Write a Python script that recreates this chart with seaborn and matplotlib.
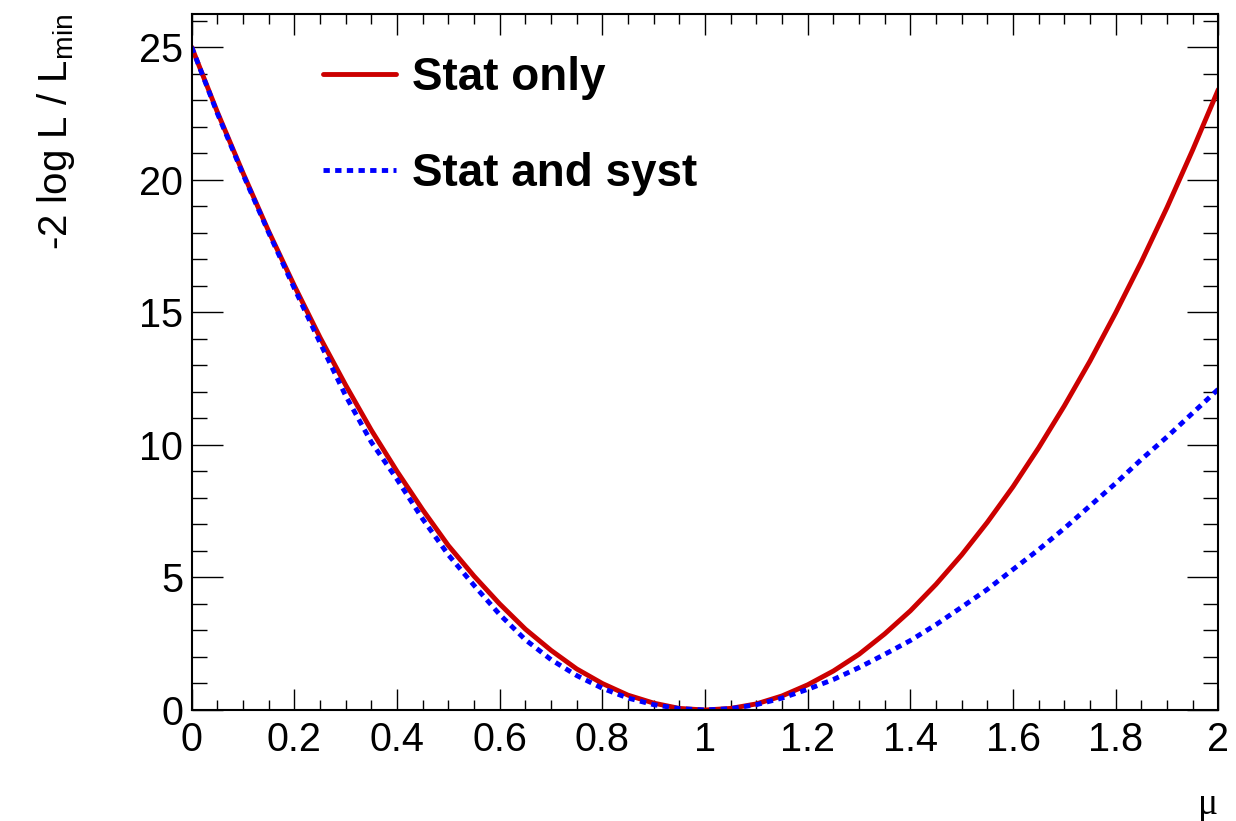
import numpy as np
import pandas as pd
import seaborn as sns
from matplotlib import pyplot as plt
from matplotlib.ticker import MultipleLocator, FuncFormatter

# mu scan points
mu = [0.00, 0.05, 0.10, 0.15, 0.20, 0.25, 0.30, 0.35, 0.40, 0.45,
      0.50, 0.55, 0.60, 0.65, 0.70, 0.75, 0.80, 0.85, 0.90, 0.95,
      1.00, 1.05, 1.10, 1.15, 1.20, 1.25, 1.30, 1.35, 1.40, 1.45,
      1.50, 1.55, 1.60, 1.65, 1.70, 1.75, 1.80, 1.85, 1.90, 1.95, 2.00]

# -2 log L / Lmin, stat only
stat_only = [25.0, 22.55, 20.25, 18.05, 16.0, 14.05, 12.25, 10.55, 9.0, 7.55,
             6.2, 5.05, 4.0, 3.05, 2.25, 1.55, 1.0, 0.56, 0.26, 0.06,
             0.0, 0.06, 0.23, 0.53, 0.95, 1.47, 2.1, 2.87, 3.74, 4.74,
             5.85, 7.08, 8.42, 9.89, 11.47, 13.16, 14.98, 16.9, 18.95, 21.12, 23.4]

# -2 log L / Lmin, stat and syst
stat_syst = [25.0, 22.5, 20.2, 18.0, 15.9, 13.85, 11.85, 10.1, 8.7, 7.2,
             5.85, 4.7, 3.6, 2.65, 1.9, 1.3, 0.82, 0.45, 0.2, 0.05,
             0.0, 0.05, 0.2, 0.45, 0.78, 1.15, 1.6, 2.1, 2.62, 3.22,
             3.88, 4.55, 5.3, 6.05, 6.85, 7.7, 8.55, 9.45, 10.3, 11.2, 12.1]

df = pd.DataFrame({'mu': mu, 'stat': stat_only, 'syst': stat_syst})

sns.set_theme(style='ticks')
plt.rcParams['font.family'] = ['Liberation Sans', 'DejaVu Sans']
plt.rcParams['mathtext.fontset'] = 'custom'
plt.rcParams['mathtext.rm'] = 'Liberation Sans'
plt.rcParams['text.color'] = 'black'
plt.rcParams['axes.labelcolor'] = 'black'

fig = plt.figure(figsize=(12.36, 8.21), dpi=100)
ax = fig.add_axes([0.1551, 0.1352, 0.8306, 0.8478])

sns.lineplot(data=df, x='mu', y='stat', ax=ax, color='#cc0000', linewidth=3.5,
             label='Stat only')
sns.lineplot(data=df, x='mu', y='syst', ax=ax, color='#0000ff', linewidth=3.5,
             linestyle=(0, (1.3, 1.1)), label='Stat and syst')

ax.set_xlim(0, 2)
ax.set_ylim(0, 26.25)

ax.xaxis.set_major_locator(MultipleLocator(0.2))
ax.xaxis.set_minor_locator(MultipleLocator(0.05))
ax.yaxis.set_major_locator(MultipleLocator(5))
ax.yaxis.set_minor_locator(MultipleLocator(1))
ax.xaxis.set_major_formatter(FuncFormatter(lambda v, p: '%g' % round(v, 2)))
ax.yaxis.set_major_formatter(FuncFormatter(lambda v, p: '%g' % v))

ax.tick_params(axis='both', which='both', direction='in', top=True, right=True,
               width=1.0, colors='black', labelsize=28.5)
ax.tick_params(axis='x', which='major', length=15, pad=8)
ax.tick_params(axis='x', which='minor', length=7.5)
ax.tick_params(axis='y', which='major', length=22, pad=6)
ax.tick_params(axis='y', which='minor', length=11)
for s in ax.spines.values():
    s.set_linewidth(1.5)
    s.set_color('black')

ax.set_ylabel(r'-2 log L / L$_{\mathrm{min}}$', fontsize=29, loc='top')
ax.yaxis.set_label_coords(-0.112, 1.0)
ax.set_xlabel('μ', fontsize=27, loc='right', family=['Liberation Serif', 'DejaVu Serif'])
ax.xaxis.set_label_coords(1.0, -0.112)

leg = ax.legend(loc='upper left', bbox_to_anchor=(0.128, 0.94), frameon=False,
                prop={'weight': 'bold', 'size': 33}, handlelength=1.6,
                handletextpad=0.35, labelspacing=1.15, borderpad=0, borderaxespad=0)

fig.savefig('out.png', dpi=100)
